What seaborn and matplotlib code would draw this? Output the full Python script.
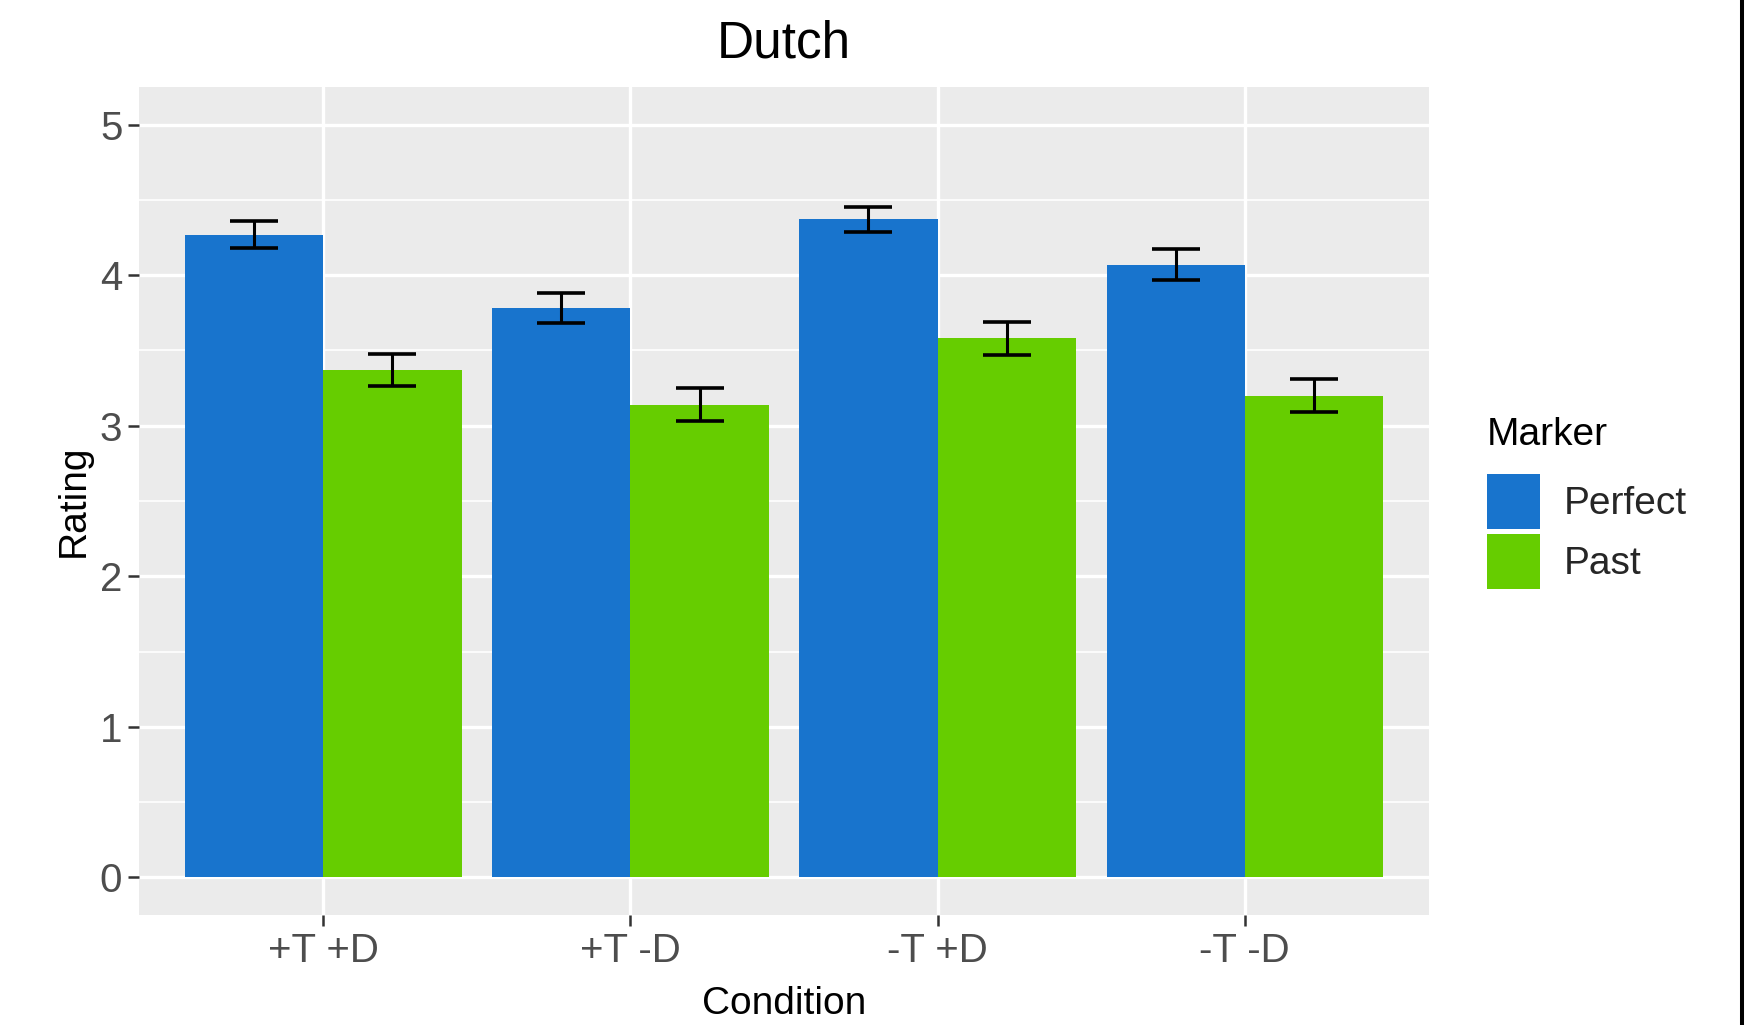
import matplotlib
matplotlib.use("Agg")
import matplotlib.pyplot as plt
from matplotlib.lines import Line2D
import seaborn as sns
import pandas as pd
import numpy as np

conditions = ["+T +D", "+T -D", "-T +D", "-T -D"]
markers = ["Perfect", "Past"]
perfect_mean = [4.27, 3.78, 4.37, 4.07]
past_mean = [3.37, 3.14, 3.58, 3.20]
perfect_se = [0.09, 0.10, 0.085, 0.105]
past_se = [0.105, 0.11, 0.11, 0.11]
colors = {"Perfect": "#1874CD", "Past": "#66CD00"}

df = pd.DataFrame({
    "Condition": conditions * 2,
    "Marker": ["Perfect"] * 4 + ["Past"] * 4,
    "Rating": perfect_mean + past_mean,
})
se_by_marker = {"Perfect": perfect_se, "Past": past_se}

sns.set_style("white")
plt.rcParams["font.family"] = ["Liberation Sans", "DejaVu Sans"]

fig = plt.figure(figsize=(17.6, 10.25), dpi=100)
ax = fig.add_axes([139 / 1760, 1 - 915 / 1025, 1290 / 1760, 828 / 1025])
ax.set_facecolor("#EBEBEB")

sns.barplot(data=df, x="Condition", y="Rating", hue="Marker", order=conditions,
            hue_order=markers, palette=colors, width=0.9, gap=0, errorbar=None,
            saturation=1, linewidth=0, ax=ax, zorder=3)

# error bars at the centres of the bars seaborn drew
for marker, cont in zip(markers, ax.containers):
    xs = [b.get_x() + b.get_width() / 2 for b in cont]
    ys = [b.get_height() for b in cont]
    ax.errorbar(xs, ys, yerr=se_by_marker[marker], fmt="none", ecolor="black",
                elinewidth=2.2, capsize=17, capthick=2.6, zorder=4)

ax.set_xlim(-0.6, 3.6)
ax.set_ylim(-0.25, 5.25)
ax.set_yticks([0, 1, 2, 3, 4, 5])
ax.set_yticks(np.arange(0.5, 5, 1), minor=True)

ax.grid(which="major", color="white", linewidth=2.4, zorder=0)
ax.grid(which="minor", axis="y", color="white", linewidth=1.2, zorder=0)
ax.set_axisbelow(True)
for s in ax.spines.values():
    s.set_visible(False)

ax.tick_params(axis="both", which="major", length=8, width=1.8, color="#333333",
               labelsize=29, labelcolor="#4D4D4D", pad=4, bottom=True, left=True)
ax.tick_params(axis="y", which="minor", length=0)

ax.set_xlabel("Condition", fontsize=28, color="black", labelpad=12)
ax.set_ylabel("Rating", fontsize=28, color="black", labelpad=6)
ax.set_title("Dutch", fontsize=37, color="black", pad=21)

# legend: title as its own text, keys placed below it
handles, labels = ax.get_legend_handles_labels()
ax.get_legend().remove()
fig.text(1487 / 1760, 1 - 445 / 1025, "Marker", fontsize=28, color="black",
         ha="left", va="baseline")
leg = ax.legend(handles, labels, loc="upper left",
                bbox_to_anchor=(1487 / 1760, 1 - 474 / 1025),
                bbox_transform=fig.transFigure, frameon=False, fontsize=28,
                handlelength=1.36, handleheight=1.8,
                labelspacing=0.12, handletextpad=0.62, borderpad=0,
                borderaxespad=0)

fig.add_artist(Line2D([1742.3 / 1760, 1742.3 / 1760], [0, 1], transform=fig.transFigure,
                      color="black", linewidth=2.9))

fig.savefig("out.png", dpi=100)
